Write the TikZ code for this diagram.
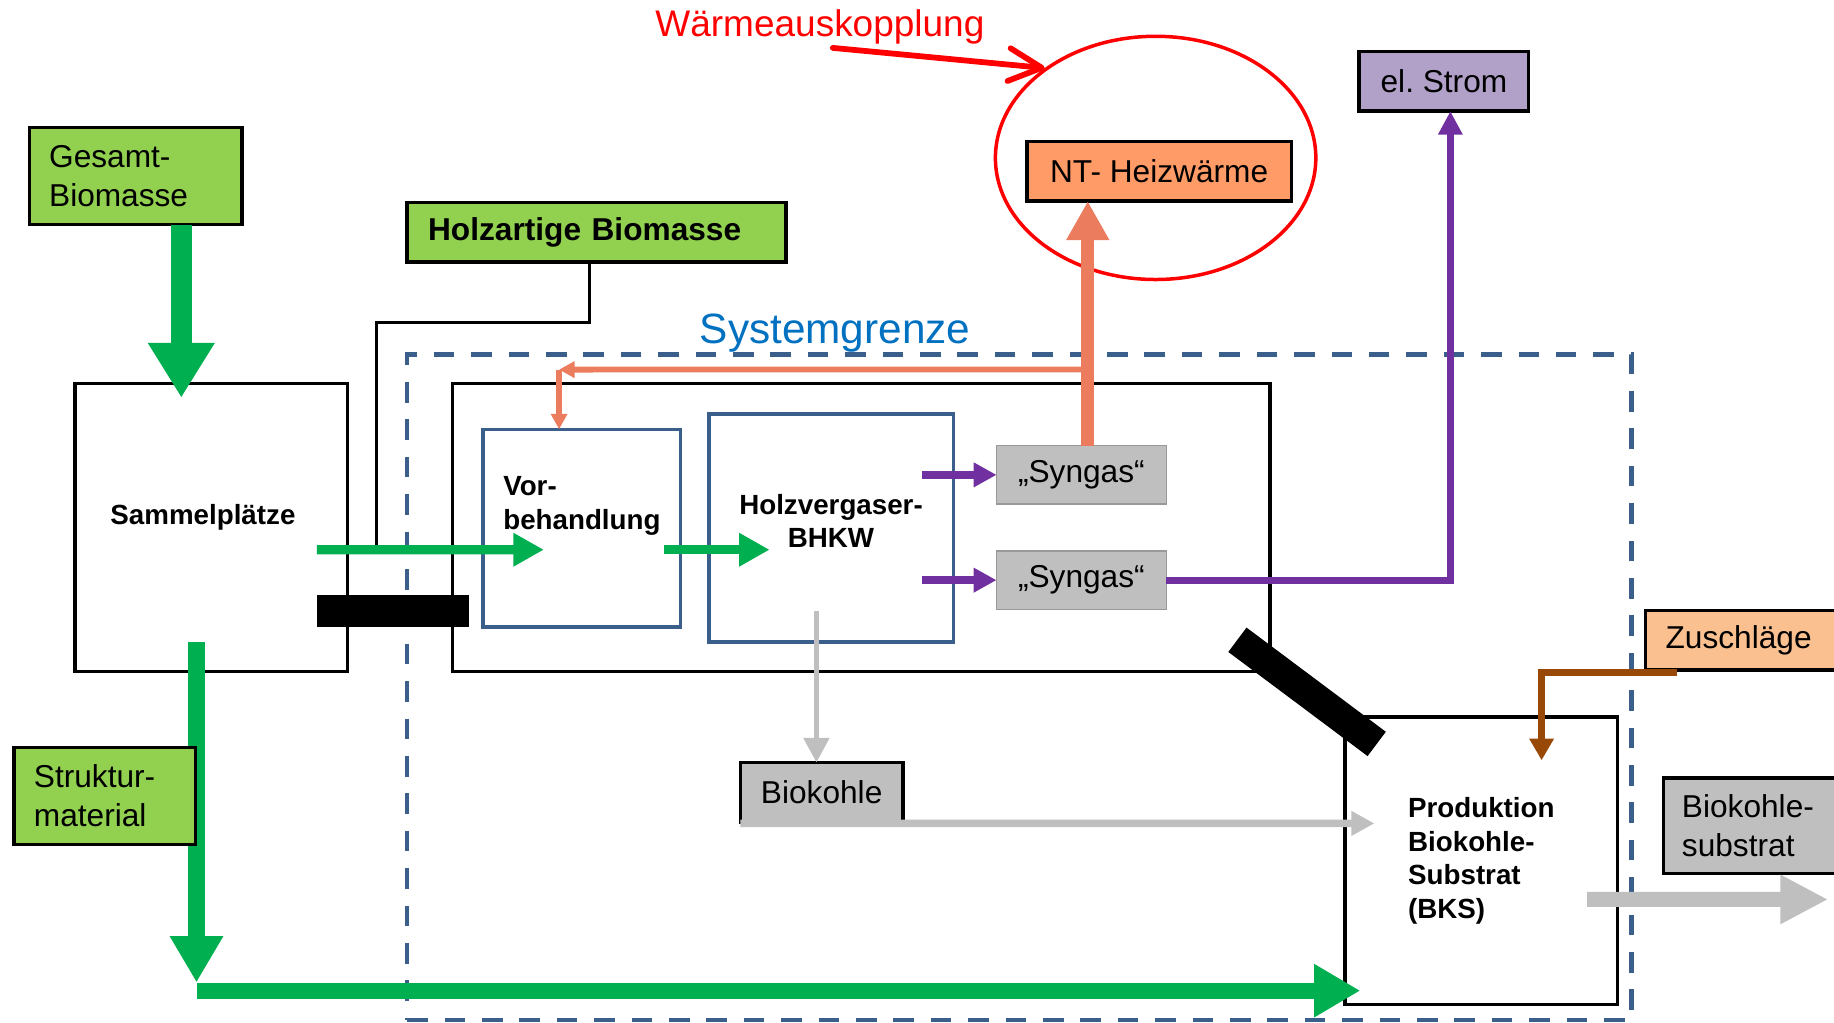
\documentclass[tikz,border=0pt]{standalone}
\usepackage{fontspec}
\setmainfont{Liberation Sans}
\usetikzlibrary{arrows.meta,calc,positioning,shapes.geometric}

\definecolor{LeafGreen}{HTML}{92D050}
\definecolor{FlowGreen}{HTML}{00B050}
\definecolor{FrameBlue}{HTML}{3A5F8B}
\definecolor{LimitBlue}{HTML}{0070C0}
\definecolor{HeatArrow}{HTML}{EC7C5E}
\definecolor{HeatFill}{HTML}{FF9B66}
\definecolor{PowerPurple}{HTML}{7030A0}
\definecolor{PowerFill}{HTML}{B1A0C7}
\definecolor{CharGrey}{HTML}{BFBFBF}
\definecolor{AddFill}{HTML}{FAC090}
\definecolor{AddBrown}{HTML}{984807}

\begin{document}
\begin{tikzpicture}[x=0.02cm, y=-0.02cm,
    kasten/.style={draw, line width=1.7pt, inner sep=0pt, outer sep=0pt},
    lbl/.style={font=\fontsize{15.4}{19}\selectfont},
    fett/.style={font=\bfseries\fontsize{13.5}{16.4}\selectfont},
    gasbox/.style={fill=CharGrey, draw=CharGrey!80!black, line width=0.6pt, inner sep=0pt, outer sep=0pt, minimum width=2.9cm, minimum height=1cm, lbl},
    gruenfett/.style={draw=FlowGreen, line width=10.3pt, -{Triangle[length=26.7pt, width=30.7pt]}},
    gruenduenn/.style={draw=FlowGreen, line width=4.5pt, -{Triangle[length=14.9pt, width=15.4pt]}},
    gruenmittel/.style={draw=FlowGreen, line width=7.8pt, -{Triangle[length=22.5pt, width=24.4pt]}},
    waermedick/.style={draw=HeatArrow, line width=6.5pt, -{Triangle[length=18.9pt, width=19.6pt]}},
    waermeduenn/.style={draw=HeatArrow, line width=2.8pt, -{Triangle[length=7.5pt, width=7.7pt]}},
    lila/.style={draw=PowerPurple, line width=3.7pt, -{Triangle[length=11.2pt, width=11.4pt]}},
    lilalang/.style={draw=PowerPurple, line width=3.4pt, -{Triangle[length=11.4pt, width=11.2pt]}},
    grauduenn/.style={draw=CharGrey, line width=2.8pt, -{Triangle[length=12pt, width=12pt]}},
    graumittel/.style={draw=CharGrey, line width=3.6pt, -{Triangle[length=11.2pt, width=11.4pt]}},
    graudick/.style={draw=CharGrey, line width=7.3pt, -{Triangle[length=23.3pt, width=22.4pt]}},
    braun/.style={draw=AddBrown, line width=3.7pt, -{Triangle[length=10.6pt, width=11.4pt]}},
    rotpfeil/.style={draw=red, line width=2.8pt, line cap=round, -{Straight Barb[length=16pt, width=16pt, round]}}]
    \useasboundingbox (0,0) rectangle (1568,874);

    \node[text=red, font=\fontsize{18}{22}\selectfont] (titel) at (701,23) {Wärmeauskopplung};
    \node[draw=red, ellipse, line width=1.7pt, minimum width=5.48cm, minimum height=4.16cm, inner sep=0pt] (kreis) at (988,135) {};
    \node[kasten, fill=HeatFill, lbl, minimum width=4.52cm, minimum height=1.02cm] (nt) at (991,146.5) {NT- Heizwärme};
    \node[kasten, fill=PowerFill, lbl, minimum width=2.9cm, minimum height=1.02cm] (strom) at (1234.5,69.5) {el.\ Strom};
    \node[kasten, fill=LeafGreen, lbl, align=left, text width=2.96cm, inner xsep=0.34cm, minimum height=1.66cm] (gesamt) at (116,150.5) {Gesamt-\\Biomasse};
    \node[kasten, fill=LeafGreen, font=\bfseries\fontsize{15.4}{19}\selectfont, align=left, text width=5.76cm, inner xsep=0.36cm, minimum height=1.02cm] (holz) at (510,198.5) {Holzartige Biomasse};

    \node[draw=FrameBlue, line width=2pt, dash pattern=on 10pt off 8.2pt, minimum width=20.94cm, minimum height=11.38cm, inner sep=0pt, outer sep=0pt] (grenze) at (871.5,587.5) {};
    \node[text=LimitBlue, font=\fontsize{20.6}{24}\selectfont] (sysname) at (714,285) {Systemgrenze};

    \node[kasten, minimum width=4.66cm, minimum height=4.92cm] (sammel) at (180.5,451) {};
    \node[fett] (sammeltext) at ($(sammel)+(-7,-9)$) {Sammelplätze};
    \node[kasten, minimum width=13.98cm, minimum height=4.92cm] (anl) at (736.5,451) {};
    \node[kasten, draw=FrameBlue, minimum width=3.38cm, minimum height=3.38cm] (vor) at (497.5,451.5) {};
    \node[fett, align=left] (vortext) at ($(vor)+(0,-19)$) {Vor-\\behandlung};
    \node[kasten, draw=FrameBlue, minimum width=4.18cm, minimum height=3.9cm] (bhkw) at (710.5,451.5) {};
    \node[fett, align=center] (bhkwtext) at ($(bhkw)+(0,-6)$) {Holzvergaser-\\BHKW};
    \node[gasbox] (syn1) at (924.5,406) {„Syngas“};
    \node[gasbox] (syn2) at (924.5,496) {„Syngas“};

    \node[kasten, fill=CharGrey, lbl, minimum width=2.78cm, minimum height=1.02cm] (bk) at (702.5,677.5) {Biokohle};
    \node[kasten, fett, align=left, minimum width=4.66cm, minimum height=4.92cm] (bks) at (1266.5,736) {Produktion\\Biokohle-\\Substrat\\(BKS)};
    \node[kasten, fill=AddFill, lbl, align=left, text width=2.64cm, inner xsep=0.34cm, minimum height=1.02cm] (zus) at (1490,547.5) {Zuschläge};
    \node[kasten, fill=CharGrey, lbl, align=left, text width=2.36cm, inner xsep=0.32cm, minimum height=1.64cm] (bksub) at (1497,706) {Biokohle-\\substrat};

    %% Arrows
    \draw[rotpfeil] ($(titel.south)+(11,-3)$) -- (kreis.141);
    \draw[gruenfett] ($(gesamt.south)+(39,0)$) -- ($(sammel.north)+(-25.5,12)$);
    \coordinate (einsp) at ($(sammel.east)+(25,19)$);
    \draw[line width=1.5pt] ($(holz.south)+(-6,0)$) -- ++(0,52) -| (einsp);
    \draw[gruenduenn] ($(sammel.east)+(-26,19)$) -- ($(vor.west)+(52,18.5)$);
    \draw[gruenduenn] ($(vor.east)+(-14,18.5)$) -- ($(bhkw.west)+(52,18.5)$);
    \draw[lila] ($(bhkw.east |- syn1.west)+(-27,0)$) -- (syn1.west);
    \draw[lila] ($(bhkw.east |- syn2.west)+(-27,0)$) -- (syn2.west);
    \draw[lilalang] (syn2.east) -| ($(strom.south)+(5.5,0)$);
    \draw[waermedick] ($(syn1.north)+(5.5,0)$) -- ($(nt.south -| syn1.north)+(5.5,0)$);
    \coordinate (ecke) at ($(vor.north)+(-19.5,-51)$);
    \draw[waermeduenn] ($(syn1.north)+(5.5,-65)$) -- (ecke);
    \draw[waermeduenn] (ecke) -- (ecke |- vor.north);
    \draw[grauduenn] ($(bhkw.south)+(-12.5,-27)$) -- ($(bk.north)+(-4.5,0)$);
    \draw[graumittel] ($(bk.south west)+(0,1)$) -- ($(bks.west)+(25,-32)$);
    \draw[braun] ($(zus.south west)+(27,2)$) -| ($(bks.north)+(51.5,37)$);
    \draw[graudick] ($(bks.east)+(-26,33)$) -- ($(bksub.south east)+(-9,22)$);
    \coordinate (knick) at ($(sammel.south)+(-12.5,273)$);
    \draw[gruenmittel] (knick) -- ($(bks.south west)+(13,-12)$);
    \draw[gruenmittel] ($(sammel.south)+(-12.5,-25)$) -- ($(knick)+(0,-7)$);

    \node[kasten, fill=LeafGreen, lbl, align=left, text width=2.42cm, inner xsep=0.34cm, minimum height=1.66cm] (strukt) at (89.5,680.5) {Struktur-\\material};

    %% Barriers
    \fill ($(sammel.east)+(-26,58)$) rectangle ($(anl.west)+(14,85)$);
    \draw[line width=14.8pt] ($(anl.south east)+(-28,-27)$) -- ($(bks.north west)+(27,23)$);
\end{tikzpicture}
\end{document}
